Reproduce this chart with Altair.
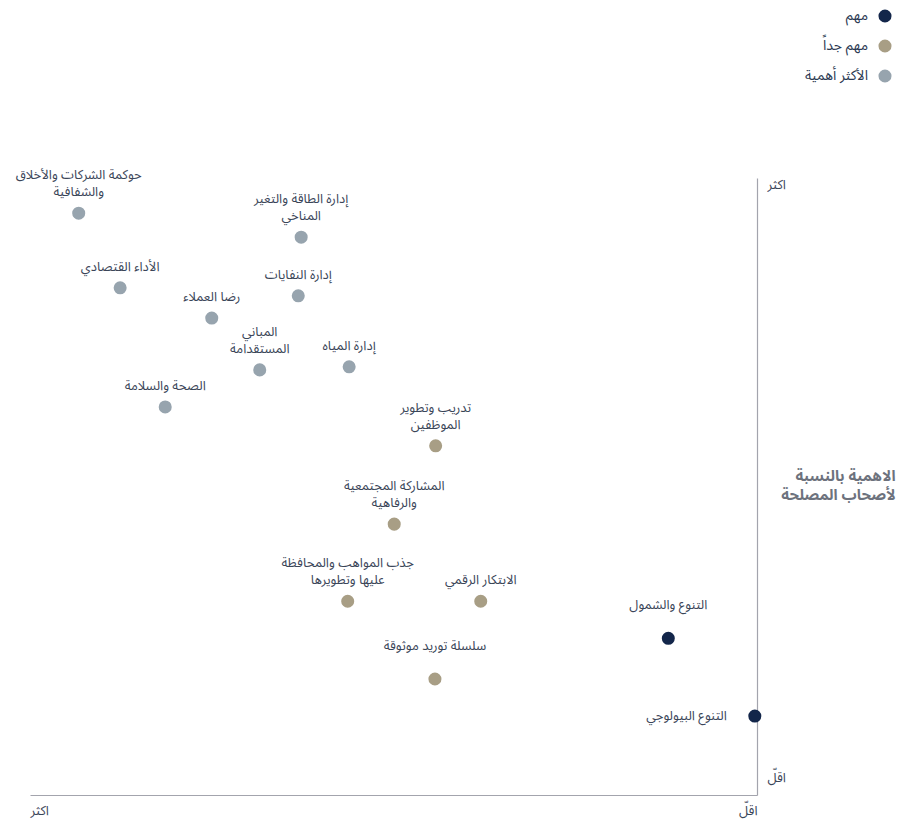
import altair as alt
import pandas as pd

# Materiality topics: importance to the business (x) and to stakeholders (y), 0-10
topics = [
    "حوكمة الشركات والأخلاق\nوالشفافية",
    "إدارة الطاقة والتغير\nالمناخي",
    "الأداء القتصادي",
    "إدارة النفايات",
    "رضا العملاء",
    "المباني\nالمستقدامة",
    "إدارة المياه",
    "الصحة والسلامة",
    "تدريب وتطوير\nالموظفين",
    "المشاركة المجتمعية\nوالرفاهية",
    "جذب المواهب والمحافظة\nعليها وتطويرها",
    "الابتكار الرقمي",
    "التنوع والشمول",
    "سلسلة توريد موثوقة",
    "التنوع البيولوجي",
]
business = [9.33, 6.27, 8.76, 6.31, 7.50, 6.84, 5.61, 8.14, 4.42, 4.99, 5.63, 3.80, 1.22, 4.43, 0.03]
stakeholders = [9.43, 9.04, 8.22, 8.09, 7.73, 6.89, 6.94, 6.29, 5.66, 4.39, 3.14, 3.14, 2.54, 1.88, 1.28]
levels = [
    "الأكثر أهمية", "الأكثر أهمية", "الأكثر أهمية", "الأكثر أهمية",
    "الأكثر أهمية", "الأكثر أهمية", "الأكثر أهمية", "الأكثر أهمية",
    "مهم جداً", "مهم جداً", "مهم جداً", "مهم جداً",
    "مهم", "مهم جداً", "مهم",
]

level_order = ["مهم", "مهم جداً", "الأكثر أهمية"]
level_colors = ["#13264a", "#a89e85", "#97a4ae"]

axis_ends = ["اقلّ", "اكثر"]
y_title = ["الاهمية بالنسبة", "لأصحاب المصلحة"]
side_label = "التنوع البيولوجي"
raised_labels = ["التنوع والشمول", "سلسلة توريد موثوقة"]

df = pd.DataFrame({
    "topic": topics,
    "business": business,
    "stakeholders": stakeholders,
    "level": levels,
})

FONT = "Noto Sans Arabic, DejaVu Sans, sans-serif"
TEXT = "#3a4558"
AXIS = "#a3a4ad"

end_expr = f"datum.value == 10 ? '{axis_ends[1]}' : '{axis_ends[0]}'"

x = alt.X(
    "business:Q",
    scale=alt.Scale(domain=[0, 10], reverse=True, nice=False, zero=False),
    axis=alt.Axis(
        values=[0, 10], labelExpr=end_expr, labelFlush=True, ticks=False,
        grid=False, domainColor=AXIS, domainWidth=1.2, labelPadding=9,
        labelFontSize=13, labelColor=TEXT, labelFont=FONT, title=None,
    ),
)
y = alt.Y(
    "stakeholders:Q",
    scale=alt.Scale(domain=[0, 10], nice=False, zero=False),
    axis=alt.Axis(
        orient="right", values=[0, 10], labelExpr=end_expr, labelFlush=False,
        labelAlign="left", labelBaseline="middle", labelPadding=10,
        labelOffset={"condition": {"test": "datum.value == 10", "value": 6}, "value": -18},
        ticks=False, grid=False, domainColor=AXIS, domainWidth=1.2,
        labelFontSize=13, labelColor=TEXT, labelFont=FONT,
        title=y_title, titleAngle=0, titleAlign="right", titleBaseline="middle",
        titleX=138, titleY=297, titleFontWeight="bold", titleFontSize=15,
        titleColor="#6d727d", titleFont=FONT, titleLineHeight=19,
    ),
)

base = alt.Chart(df).encode(x=x, y=y)

points = base.mark_circle(size=170, opacity=1).encode(
    color=alt.Color(
        "level:N",
        scale=alt.Scale(domain=level_order, range=level_colors),
        legend=alt.Legend(
            orient="none", legendX=848, legendY=-169, title=None,
            labelAlign="right", labelOffset={"expr": "-24"}, symbolSize=170,
            symbolType="circle", labelFontSize=14, labelColor="#2b3952",
            labelFont=FONT, rowPadding=16, symbolStrokeWidth=0,
        ),
    )
)

is_multi = "indexof(datum.topic, '\\n') >= 0"
is_raised = alt.FieldOneOfPredicate(field="topic", oneOf=raised_labels)
text_style = dict(fontSize=13, color=TEXT, font=FONT)

# one-line labels sit just above their point
labels_single = base.transform_filter(
    f"!({is_multi}) && datum.topic != '{side_label}'"
).transform_filter(~is_raised).mark_text(
    align="center", baseline="bottom", dy=-14, **text_style
).encode(text="topic:N")

# a couple of one-line labels sit a little higher
labels_raised = base.transform_filter(is_raised).mark_text(
    align="center", baseline="bottom", dy=-26, **text_style
).encode(text="topic:N")

# two-line labels: the first line is anchored one line higher
labels_multi = base.transform_filter(is_multi).mark_text(
    align="center", baseline="bottom", dy=-31, lineBreak="\n", lineHeight=17,
    **text_style
).encode(text="topic:N")

side = base.transform_filter(
    alt.datum.topic == side_label
).mark_text(
    align="right", baseline="middle", dx=-28, **text_style
).encode(text="topic:N")

chart = alt.layer(points, labels_single, labels_raised, labels_multi, side).properties(
    width=727,
    height=617,
    autosize=alt.AutoSizeParams(type="none"),
    padding={"left": 30, "top": 178, "right": 160, "bottom": 28},
    background="white",
).configure_view(stroke=None, strokeWidth=0)

chart.save("out.html", embed_options={"renderer": "svg", "actions": False})
